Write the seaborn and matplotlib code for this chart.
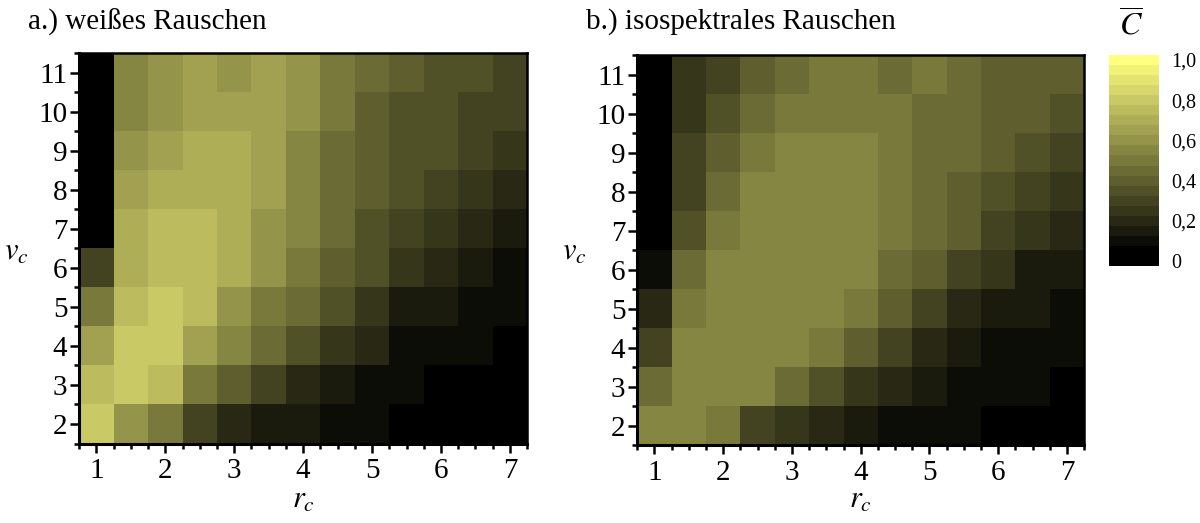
import numpy as np
import pandas as pd
import matplotlib
matplotlib.use("Agg")
import matplotlib.pyplot as plt
from matplotlib.colors import ListedColormap, BoundaryNorm
from matplotlib.cm import ScalarMappable
import seaborn as sns

# ---- data -------------------------------------------------------------
r_c = [1.0, 1.5, 2.0, 2.5, 3.0, 3.5, 4.0, 4.5, 5.0, 5.5, 6.0, 6.5, 7.0]
v_c = [11, 10, 9, 8, 7, 6, 5, 4, 3, 2]          # rows, top to bottom

# mean coherence C, one list per v_c row (r_c = 1 ... 7)
white_noise = [
    [0.00, 0.55, 0.60, 0.65, 0.60, 0.65, 0.60, 0.50, 0.45, 0.40, 0.35, 0.35, 0.30],
    [0.00, 0.55, 0.60, 0.65, 0.65, 0.65, 0.60, 0.50, 0.40, 0.35, 0.35, 0.30, 0.30],
    [0.00, 0.60, 0.65, 0.70, 0.70, 0.65, 0.55, 0.45, 0.40, 0.35, 0.35, 0.30, 0.25],
    [0.00, 0.65, 0.70, 0.70, 0.70, 0.65, 0.55, 0.45, 0.40, 0.35, 0.30, 0.25, 0.20],
    [0.00, 0.70, 0.75, 0.75, 0.70, 0.60, 0.55, 0.45, 0.35, 0.30, 0.25, 0.20, 0.15],
    [0.30, 0.70, 0.75, 0.75, 0.70, 0.60, 0.50, 0.40, 0.35, 0.25, 0.20, 0.15, 0.10],
    [0.50, 0.75, 0.80, 0.75, 0.60, 0.50, 0.45, 0.35, 0.25, 0.15, 0.15, 0.10, 0.10],
    [0.65, 0.80, 0.80, 0.65, 0.55, 0.45, 0.35, 0.25, 0.20, 0.10, 0.10, 0.10, 0.00],
    [0.75, 0.80, 0.75, 0.50, 0.40, 0.30, 0.20, 0.15, 0.10, 0.10, 0.00, 0.00, 0.00],
    [0.80, 0.60, 0.50, 0.30, 0.20, 0.15, 0.15, 0.10, 0.10, 0.00, 0.00, 0.00, 0.00],
]

isospectral_noise = [
    [0.00, 0.25, 0.30, 0.40, 0.45, 0.50, 0.50, 0.45, 0.50, 0.45, 0.40, 0.40, 0.40],
    [0.00, 0.25, 0.35, 0.45, 0.50, 0.50, 0.50, 0.50, 0.45, 0.45, 0.40, 0.40, 0.35],
    [0.00, 0.30, 0.40, 0.50, 0.55, 0.55, 0.55, 0.50, 0.45, 0.45, 0.40, 0.35, 0.30],
    [0.00, 0.30, 0.45, 0.55, 0.55, 0.55, 0.55, 0.50, 0.45, 0.40, 0.35, 0.30, 0.25],
    [0.00, 0.35, 0.50, 0.55, 0.55, 0.55, 0.55, 0.50, 0.45, 0.40, 0.30, 0.25, 0.20],
    [0.10, 0.45, 0.55, 0.55, 0.55, 0.55, 0.55, 0.45, 0.40, 0.30, 0.25, 0.15, 0.15],
    [0.20, 0.50, 0.55, 0.55, 0.55, 0.55, 0.50, 0.40, 0.30, 0.20, 0.15, 0.15, 0.10],
    [0.30, 0.55, 0.55, 0.55, 0.55, 0.50, 0.40, 0.30, 0.20, 0.15, 0.10, 0.10, 0.10],
    [0.45, 0.55, 0.55, 0.55, 0.45, 0.35, 0.25, 0.20, 0.15, 0.10, 0.10, 0.10, 0.00],
    [0.55, 0.55, 0.50, 0.30, 0.25, 0.20, 0.15, 0.10, 0.10, 0.10, 0.00, 0.00, 0.00],
]

panel_titles = ["a.) weißes Rauschen", "b.) isospektrales Rauschen"]
cbar_ticks = [0.0, 0.2, 0.4, 0.6, 0.8, 1.0]
cbar_ticklabels = ["0", "0,2", "0,4", "0,6", "0,8", "1,0"]

# ---- style ------------------------------------------------------------
plt.rcParams["font.family"] = ["Liberation Serif", "DejaVu Serif"]
plt.rcParams["mathtext.fontset"] = "stix"

# stepped black -> yellow scale; the black step covers the lowest 0.1
n_levels = 20
level_colors = [(k / 19, k / 19, 0.5 * k / 19) for k in range(n_levels)]
cmap = ListedColormap(level_colors)
bounds = [-0.025] + [0.075 + 0.05 * i for i in range(n_levels)]
norm = BoundaryNorm(bounds, cmap.N)

fig = plt.figure(figsize=(12, 5.23), dpi=100)
ax_pos = [[0.066, 0.152, 0.3733, 0.746], [0.531, 0.149, 0.3725, 0.745]]

major_r = [1, 2, 3, 4, 5, 6, 7]
minor_r = np.arange(0.75, 7.26, 0.25)
major_v = list(range(2, 12))
minor_v = np.arange(1.5, 11.51, 0.5)


def r_pos(r):
    return (np.asarray(r, dtype=float) - r_c[0]) * 2 + 0.5


def v_pos(v):
    return (v_c[0] - np.asarray(v, dtype=float)) + 0.5


for i, (values, title) in enumerate(zip([white_noise, isospectral_noise], panel_titles)):
    ax = fig.add_axes(ax_pos[i])
    df = pd.DataFrame(values, index=v_c, columns=r_c)
    sns.heatmap(df, ax=ax, cmap=cmap, norm=norm, cbar=False,
                xticklabels=False, yticklabels=False, linewidths=0)

    ax.set_xticks(r_pos(major_r))
    ax.set_xticklabels([str(r) for r in major_r])
    ax.set_xticks(r_pos(minor_r), minor=True)
    ax.set_yticks(v_pos(major_v))
    ax.set_yticklabels([str(v) for v in major_v], rotation=0)
    ax.set_yticks(v_pos(minor_v), minor=True)

    ax.tick_params(which="major", direction="out", length=6.5, width=1.8,
                   labelsize=21, pad=2, colors="black")
    ax.tick_params(which="minor", direction="out", length=3.5, width=1.8)
    ax.tick_params(axis="x", which="major", pad=4)
    ax.set_xlabel("")
    ax.set_ylabel("")
    for side, spine in ax.spines.items():
        spine.set_visible(True)
        spine.set_color("black")
        spine.set_linewidth(2.2 if side in ("left", "bottom") else 1.8)

    x0 = ax_pos[i][0]
    fig.text(x0 - 0.043, 1 - 22 / 523, title, fontsize=21,
             ha="left", va="center")
    fig.text(x0 - 0.052, 1 - 252 / 523, r"$v_c$", fontsize=22,
             ha="center", va="center")
    fig.text(x0 + ax_pos[i][2] / 2, 1 - 500 / 523, r"$r_c$", fontsize=22,
             ha="center", va="center")

# colour scale
cax = fig.add_axes([0.924, 0.4914, 0.0417, 0.4034])
sm = ScalarMappable(norm=norm, cmap=cmap)
cb = fig.colorbar(sm, cax=cax, boundaries=bounds, spacing="proportional",
                  ticks=cbar_ticks)
cb.set_ticklabels(cbar_ticklabels)
cb.outline.set_visible(False)
cax.minorticks_off()
cax.tick_params(length=0, labelsize=14.5, pad=9)
fig.text(1131 / 1200, 1 - 26 / 523, r"$\overline{C}$", fontsize=23,
         ha="center", va="center")

fig.savefig("out.png", dpi=100)
